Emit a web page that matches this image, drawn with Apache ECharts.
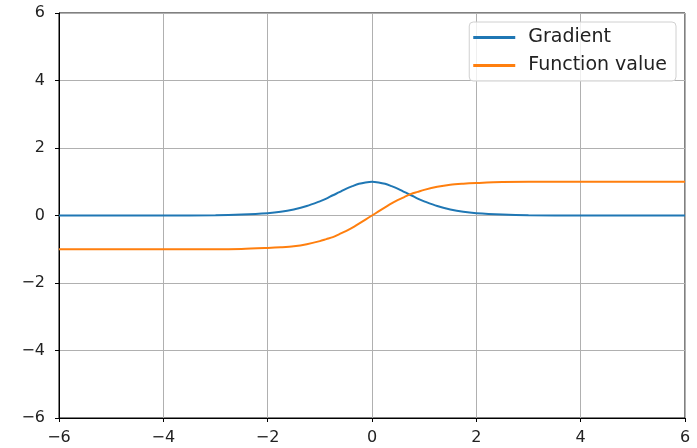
<!DOCTYPE html>
<html><head><meta charset="utf-8">
<script src="https://cdn.jsdelivr.net/npm/echarts@6/dist/echarts.min.js"></script>
<style>html,body{margin:0;padding:0;background:#fff}#c{width:697px;height:448px}</style>
</head><body><div id="c"></div>
<script>
const xs = [-6, -4, -3, -2.5, -2, -1.75, -1.5, -1.25, -1, -0.875, -0.75, -0.625, -0.5, -0.375, -0.25, -0.125, 0, 0.125, 0.25, 0.375, 0.5, 0.625, 0.75, 0.875, 1, 1.25, 1.5, 1.75, 2, 2.5, 3, 4, 6];
const gradient = [0, 0, 0.01, 0.03, 0.07, 0.11, 0.18, 0.28, 0.42, 0.50, 0.60, 0.69, 0.79, 0.87, 0.94, 0.98, 1.0, 0.98, 0.94, 0.87, 0.79, 0.69, 0.60, 0.50, 0.42, 0.28, 0.18, 0.11, 0.07, 0.03, 0.01, 0, 0];
const fnValue = [-1, -1, -1.0, -0.99, -0.96, -0.94, -0.91, -0.85, -0.76, -0.70, -0.64, -0.55, -0.46, -0.36, -0.24, -0.12, 0, 0.12, 0.24, 0.36, 0.46, 0.55, 0.64, 0.70, 0.76, 0.85, 0.91, 0.94, 0.96, 0.99, 1.0, 1, 1];
const ticks = [-6, -4, -2, 0, 2, 4, 6];
const seriesNames = ['Gradient', 'Function value'];

const chart = echarts.init(document.getElementById('c'), null, {renderer: 'canvas'});
const font = 'DejaVu Sans';
const fmt = v => (v < 0 ? '\u2212' + Math.abs(v) : String(v));
const axisCommon = {
  type: 'value', min: ticks[0], max: ticks[ticks.length - 1], interval: 2,
  axisLine: {show: true, onZero: false, lineStyle: {color: '#000', width: 1}},
  axisTick: {show: true, length: 4, inside: false, lineStyle: {color: '#000'}},
  splitLine: {show: true, lineStyle: {color: '#b0b0b0', width: 1}},
  axisLabel: {color: '#222', fontFamily: font, fontSize: 16, formatter: fmt}
};
chart.setOption({
  animation: false,
  grid: {left: 59, right: 12, top: 13, bottom: 30, show: true, borderColor: '#000', borderWidth: 1, backgroundColor: 'transparent'},
  xAxis: Object.assign({}, axisCommon, {axisLabel: Object.assign({}, axisCommon.axisLabel, {margin: 12})}),
  yAxis: Object.assign({}, axisCommon, {axisLabel: Object.assign({}, axisCommon.axisLabel, {margin: 14})}),
  legend: {
    orient: 'vertical', right: 21, top: 22,
    data: seriesNames,
    icon: 'rect', itemWidth: 42, itemHeight: 3, itemGap: 9,
    backgroundColor: 'rgba(255,255,255,0.8)', borderColor: '#d0d0d0', borderWidth: 1, borderRadius: 4,
    padding: [6, 9, 6, 4],
    textStyle: {fontFamily: font, fontSize: 19, lineHeight: 19, color: '#222', padding: [0, 0, 0, 8]}
  },
  series: [
    {name: seriesNames[0], type: 'line', data: xs.map((x, i) => [x, gradient[i]]), smooth: 0.3, showSymbol: false, lineStyle: {color: '#1f77b4', width: 2}, itemStyle: {color: '#1f77b4'}},
    {name: seriesNames[1], type: 'line', data: xs.map((x, i) => [x, fnValue[i]]), smooth: 0.3, showSymbol: false, lineStyle: {color: '#ff7f0e', width: 2}, itemStyle: {color: '#ff7f0e'}}
  ]
});
</script></body></html>
